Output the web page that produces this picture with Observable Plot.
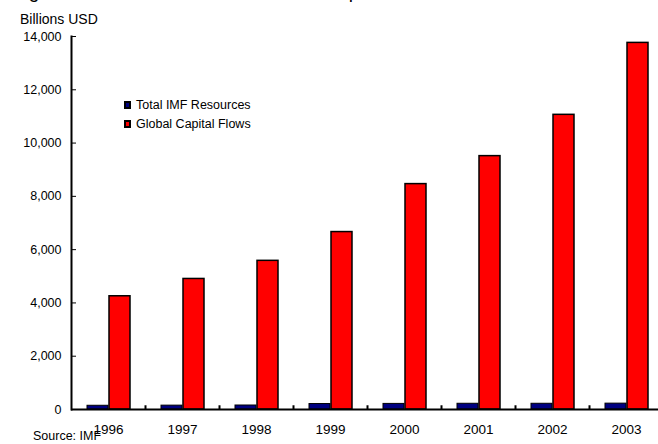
<!DOCTYPE html>
<html>
<head>
<meta charset="utf-8">
<script src="https://cdn.jsdelivr.net/npm/d3@7"></script>
<script src="https://cdn.jsdelivr.net/npm/@observablehq/plot@0.6"></script>
<style>
  html, body { margin: 0; padding: 0; background: #fff; }
  body { width: 658px; height: 444px; overflow: hidden; position: relative; font-family: "Liberation Sans", Arial, sans-serif; color: #000; }
  #chart { position: absolute; left: 0; top: 0; }
  .title { position: absolute; left: 13px; top: -19px; font-size: 19px; white-space: nowrap; }
  .ylabel { position: absolute; left: 20px; top: 11px; font-size: 14px; }
  .source { position: absolute; left: 33px; top: 429px; font-size: 12.5px; }
  .legend { position: absolute; left: 124px; top: 95px; font-size: 12.5px; }
  .legend div { height: 19px; display: flex; align-items: center; }
  .sw { display: inline-block; width: 3px; height: 4px; border: 2px solid #000; margin-right: 5px; }
</style>
</head>
<body>
<div id="chart"></div>
<div class="title">Figure 1: IMF Resources and Global Capital Flows</div>
<div class="ylabel">Billions USD</div>
<div class="source">Source: IMF</div>
<div class="legend" id="legend"></div>
<script>
const years = ["1996", "1997", "1998", "1999", "2000", "2001", "2002", "2003"];
const imfResources = [140, 145, 150, 205, 210, 215, 215, 220];
const capitalFlows = [4250, 4900, 5580, 6660, 8460, 9510, 11060, 13760];
const yTicks = [0, 2000, 4000, 6000, 8000, 10000, 12000, 14000];
const seriesNames = ["Total IMF Resources", "Global Capital Flows"];
const seriesColors = ["#000080", "#ff0000"];

const imfData = years.map((y, i) => ({year: y, value: imfResources[i]}));
const flowData = years.map((y, i) => ({year: y, value: capitalFlows[i]}));

const plot = Plot.plot({
  width: 658,
  height: 444,
  marginLeft: 71,
  marginTop: 36,
  marginBottom: 35,
  marginRight: 0,
  style: {fontFamily: "Liberation Sans, Arial, sans-serif", fontSize: "12px", color: "#000", background: "#fff"},
  x: {domain: years, range: [71, 663], padding: 0, label: null},
  y: {domain: [0, 14000], label: null},
  marks: [
    Plot.barY(imfData, {x: "year", y: "value", fill: seriesColors[0], stroke: "#000", strokeWidth: 1, insetLeft: 16, insetRight: 37}),
    Plot.barY(flowData, {x: "year", y: "value", fill: seriesColors[1], stroke: "#000", strokeWidth: 1.5, insetLeft: 38, insetRight: 15}),
    Plot.ruleX(years, {x: d => d, dx: 37, y1: 0, y2: 140, stroke: "#000", strokeWidth: 2}),
    Plot.frame({anchor: "left", stroke: "#000", strokeWidth: 2}),
    Plot.ruleY([0], {stroke: "#000", strokeWidth: 2}),
    Plot.axisY({ticks: yTicks, tickSize: -5, tickPadding: 15, tickFormat: d3.format(","), fontSize: 12.5}),
    Plot.axisX({tickSize: 0, tickPadding: 15, fontSize: 13.5})
  ]
});
document.getElementById("chart").appendChild(plot);

const legend = document.getElementById("legend");
seriesNames.forEach((name, i) => {
  const row = document.createElement("div");
  const sw = document.createElement("span");
  sw.className = "sw";
  sw.style.background = seriesColors[i];
  row.appendChild(sw);
  row.appendChild(document.createTextNode(name));
  legend.appendChild(row);
});
</script>
</body>
</html>
